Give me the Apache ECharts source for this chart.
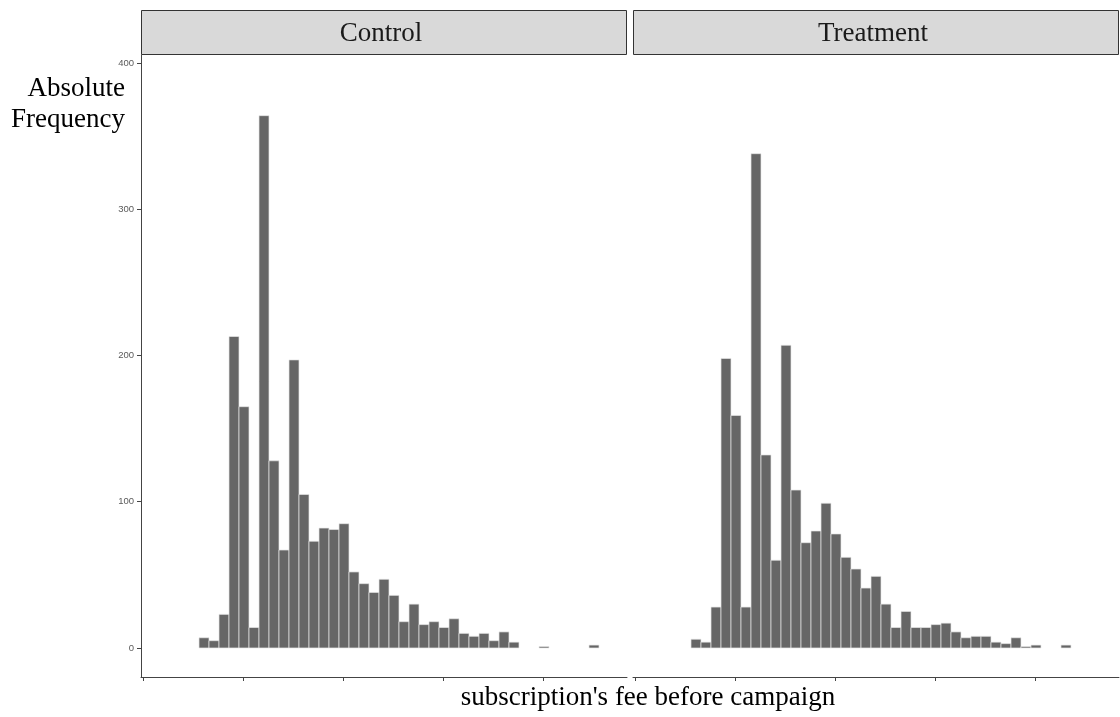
<!DOCTYPE html>
<html>
<head>
<meta charset="utf-8">
<script src="https://cdn.jsdelivr.net/npm/echarts@6/dist/echarts.min.js"></script>
<style>
  html, body { margin: 0; padding: 0; background: #ffffff; }
  #chart { width: 1120px; height: 717px; }
</style>
</head>
<body>
<div id="chart"></div>
<script>
// Histogram of the subscription fee, one panel per group.
const panels = ['Control', 'Treatment'];
const binStart = 5.6;   // left edge of the first bin (axis units)
const binWidth = 1;     // width of one bin (axis units)
const controlCounts = [7, 5, 23, 213, 165, 14, 364, 128, 67, 197, 105, 73, 82, 81, 85, 52, 44, 38, 47, 36,
                       18, 30, 16, 18, 14, 20, 10, 8, 10, 5, 11, 4, 0, 0, 1, 0, 0, 0, 0, 2];
const treatmentCounts = [6, 4, 28, 198, 159, 28, 338, 132, 60, 207, 108, 72, 80, 99, 78, 62, 54, 41, 49, 30,
                         14, 25, 14, 14, 16, 17, 11, 7, 8, 8, 4, 3, 7, 1, 2, 0, 0, 2];
const yTicks = [0, 100, 200, 300, 400];
const xTicks = [0, 10, 20, 30, 40];
const xTitle = "subscription's fee before campaign";
const yTitleLines = ['Absolute', 'Frequency'];

const serif = '"Liberation Serif", "Times New Roman", serif';
const axisColor = '#444444';

function toBins(counts) {
  return counts.map((n, i) => [binStart + i * binWidth, binStart + (i + 1) * binWidth, n]);
}

function renderBin(params, api) {
  const n = api.value(2);
  if (!n) return null;
  const topLeft = api.coord([api.value(0), n]);
  const bottomRight = api.coord([api.value(1), 0]);
  return {
    type: 'rect',
    shape: {
      x: topLeft[0],
      y: topLeft[1],
      width: bottomRight[0] - topLeft[0],
      height: bottomRight[1] - topLeft[1]
    },
    style: { fill: '#666666', stroke: '#e6e6e6', lineWidth: 0.7 }
  };
}

const panelLeft = [141, 633];
const panelWidth = 486;
const panelTop = 55;
const panelHeight = 622;
const stripTop = 10;

const grids = panelLeft.map(l => ({
  left: l, top: panelTop, width: panelWidth, height: panelHeight,
  outerBoundsMode: 'none', containLabel: false
}));

const xAxes = panelLeft.map((_, i) => ({
  type: 'value', gridIndex: i, min: -0.2, max: 48.4,
  axisLine: { show: true, onZero: false, lineStyle: { color: axisColor, width: 1 } },
  axisTick: { show: true, length: 4, customValues: xTicks, lineStyle: { color: axisColor } },
  axisLabel: { show: false },
  splitLine: { show: false }
}));

const yAxes = panelLeft.map((_, i) => ({
  type: 'value', gridIndex: i, min: -19.83, max: 405.47,
  show: i === 0,
  axisLine: { show: true, onZero: false, lineStyle: { color: axisColor, width: 1 } },
  axisTick: { show: true, length: 4, customValues: yTicks, lineStyle: { color: axisColor } },
  axisLabel: {
    show: true, customValues: yTicks, margin: 7,
    color: '#5a5a5a', fontSize: 9.5, fontFamily: '"Liberation Sans", Arial, sans-serif'
  },
  splitLine: { show: false }
}));

const series = [controlCounts, treatmentCounts].map((counts, i) => ({
  type: 'custom', name: panels[i],
  xAxisIndex: i, yAxisIndex: i,
  renderItem: renderBin,
  encode: { x: [0, 1], y: 2 },
  data: toBins(counts),
  silent: true
}));

const graphics = [];
panels.forEach((name, i) => {
  graphics.push({
    type: 'rect',
    shape: { x: panelLeft[i] + 0.5, y: stripTop + 0.5, width: panelWidth - 1, height: panelTop - stripTop - 1 },
    style: { fill: '#d9d9d9', stroke: '#333333', lineWidth: 1 },
    silent: true
  });
  graphics.push({
    type: 'text',
    x: panelLeft[i] + panelWidth / 2 - 3, y: 34,
    style: {
      text: name, fill: '#1a1a1a', font: '27px ' + serif,
      textAlign: 'center', textVerticalAlign: 'middle'
    },
    silent: true
  });
});
yTitleLines.forEach((line, j) => {
  graphics.push({
    type: 'text', x: 125, y: 89 + j * 31,
    style: { text: line, fill: '#000000', font: '27px ' + serif, textAlign: 'right', textVerticalAlign: 'middle' },
    silent: true
  });
});
graphics.push({
  type: 'text', x: 648, y: 698,
  style: { text: xTitle, fill: '#000000', font: '27px ' + serif, textAlign: 'center', textVerticalAlign: 'middle' },
  silent: true
});

const chart = echarts.init(document.getElementById('chart'), null, { renderer: 'canvas' });
chart.setOption({
  animation: false,
  backgroundColor: '#ffffff',
  grid: grids,
  xAxis: xAxes,
  yAxis: yAxes,
  series: series,
  graphic: graphics
});
</script>
</body>
</html>
